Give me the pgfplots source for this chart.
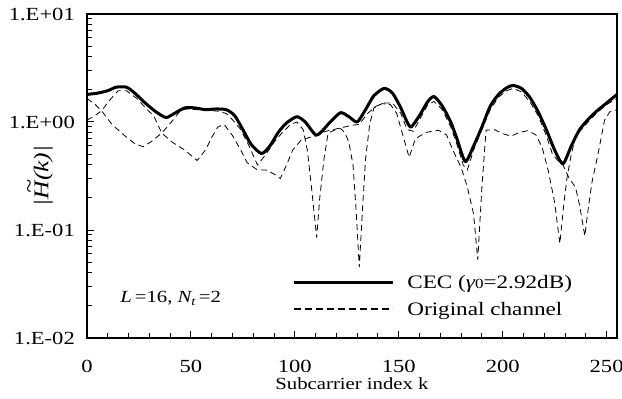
\documentclass[border=0pt]{standalone}
\usepackage{fontspec}
\setmainfont{Liberation Serif}[FakeStretch=1.22]
\usepackage{pgfplots}
\pgfplotsset{compat=1.18}
\usepackage{pgfplotstable}

\pgfplotstableread{
k v
0 1.80
5 1.85
10 1.95
14 2.10
19 2.10
23 1.85
28 1.50
33 1.25
38 1.10
42 1.20
47 1.35
52 1.35
57 1.30
62 1.32
67 1.30
71 1.15
75 0.85
79 0.62
84 0.51
88 0.60
92 0.80
96 0.98
101 1.12
105 1.00
110 0.76
113 0.82
117 1.00
122 1.22
126 1.12
130 1.00
134 1.30
138 1.75
143 2.05
147 1.85
151 1.35
154 1.00
156 0.90
160 1.15
164 1.55
167 1.72
171 1.40
175 1.00
178 0.70
182 0.43
186 0.60
190 0.90
194 1.40
198 1.80
202 2.08
205 2.18
209 2.05
213 1.70
217 1.25
221 0.85
225 0.55
229 0.41
233 0.60
237 0.85
241 1.05
245 1.25
250 1.50
255 1.80
}\cec

\pgfplotstableread{
k v
0 1.65
4 1.45
7 1.27
12 0.95
18 0.75
23 0.63
27 0.59
31 0.66
36 0.79
41 1.02
45 1.28
48 1.32
53 1.30
58 1.28
63 1.26
67 1.20
70 1.05
74 0.85
78 0.60
82 0.40
86 0.50
90 0.65
94 0.80
98 0.95
101 1.00
104 0.85
106 0.55
108 0.25
110.5 0.085
112 0.20
114 0.45
116 0.79
119 0.84
122 0.87
124 0.80
126 0.65
128 0.40
129.5 0.15
131 0.045
132.5 0.15
134 0.45
136 0.95
138 1.35
142 1.48
146 1.45
149 1.20
152 0.75
155 0.47
158 0.70
163 0.80
169 0.84
173 0.76
176 0.55
180 0.38
183 0.25
186 0.14
188 0.053
190 0.25
192 0.84
196 0.85
200 0.78
204 0.74
208 0.80
212 0.83
216 0.76
219 0.58
222 0.35
225 0.18
227.5 0.075
229.5 0.18
231 0.31
233 0.50
235 0.73
240 0.95
245 1.20
250 1.45
255 1.65
}\chA

\pgfplotstableread{
k v
0 1.04
4 1.15
7 1.27
11 1.60
15 1.95
19 1.95
24 1.65
29 1.30
32 1.15
34 0.95
36 0.79
41 0.65
47 0.55
53 0.44
57 0.55
60 0.72
63 0.90
66 0.95
70 0.75
74 0.55
77 0.42
82 0.36
86 0.36
90 0.33
93 0.30
96 0.40
99 0.55
103 0.68
107 0.72
110 0.74
113 0.80
117 0.84
122 0.88
127 0.93
131 0.95
135 1.20
139 1.40
143 1.50
147 1.50
151 1.20
154 0.85
157 0.82
160 1.05
164 1.45
167 1.55
171 1.30
175 0.90
178 0.62
181 0.40
183 0.36
186 0.55
190 0.85
194 1.30
198 1.70
202 1.95
205 2.05
209 1.90
213 1.55
217 1.15
221 0.75
224 0.50
227 0.43
229 0.40
232 0.30
235 0.25
237 0.17
239.5 0.088
241 0.15
243 0.28
246 0.52
249 1.04
251.5 1.24
255 1.30
}\chB

\begin{document}
\begin{tikzpicture}
\begin{axis}[
  at={(0,0)}, anchor=south west,
  scale only axis, width=530bp, height=324bp,
  ymode=log, ymin=0.01, ymax=10,
  xmin=0, xmax=255,
  axis line style={line width=1.5bp},
  xtick={0,50,100,150,200,250},
  minor x tick num=4,
  ytick={0.01,0.1,1,10},
  yticklabels={1.E-02,1.E-01,1.E+00,1.E+01},
  xtick pos=left, ytick pos=left,
  tick align=inside,
  major tick length=7bp, minor tick length=5bp,
  every tick/.style={black, line width=1bp},
  /pgf/number format/assume math mode=true,
  tick label style={font=\fontsize{18.5bp}{20bp}\selectfont, inner sep=0pt},
  yticklabel style={anchor=east, xshift=-12bp},
  xticklabel style={anchor=base, yshift=-34bp},
  xlabel={Subcarrier index k},
  xlabel style={font=\fontsize{17bp}{18bp}\selectfont, at={(rel axis cs:0.5,0)}, anchor=base, yshift=-51bp},
  ylabel={\itshape |\makebox[0pt][l]{\hspace{0.3em}\raisebox{0.6em}{\~{}}}H(k)|},
  ylabel style={font=\fontsize{21bp}{22bp}\selectfont, at={(rel axis cs:0,0.5)}, anchor=center, yshift=47bp},
  legend style={at={(rel axis cs:0.387,0.197)}, anchor=north west, draw=none, fill=none,
    inner sep=0pt, font=\fontsize{19bp}{21bp}\selectfont,
    nodes={inner sep=1bp}, row sep=10bp, column sep=12bp},
  legend cell align=left,
  legend image code/.code={\draw[#1] (0bp,0bp) -- (99bp,0bp);},
]
\addplot[black, line width=0.8bp, dash pattern=on 6bp off 4bp, forget plot] table[x=k,y=v] {\chA};
\addplot[black, line width=0.8bp, dash pattern=on 6bp off 4bp, forget plot] table[x=k,y=v] {\chB};
\addplot[black, line width=3bp, smooth, tension=0.4, line join=round, forget plot] table[x=k,y=v] {\cec};
\addlegendimage{black, line width=3bp}
\addlegendentry{CEC ({\itshape γ}{\fontsize{14bp}{14bp}\selectfont 0}=2.92dB)}
\addlegendimage{black, line width=2.2bp, dash pattern=on 7bp off 4bp}
\addlegendentry{Original channel}
\node[anchor=base west, font=\fontsize{17bp}{20bp}\selectfont] at (axis cs:14.4,0.0211)
  {{\itshape L}\,=16, {\itshape N}\textsubscript{\itshape t}\,=2};
\end{axis}
\pgfresetboundingbox
\useasboundingbox (-87bp,-61bp) rectangle (535bp,338bp);
\end{tikzpicture}
\end{document}
